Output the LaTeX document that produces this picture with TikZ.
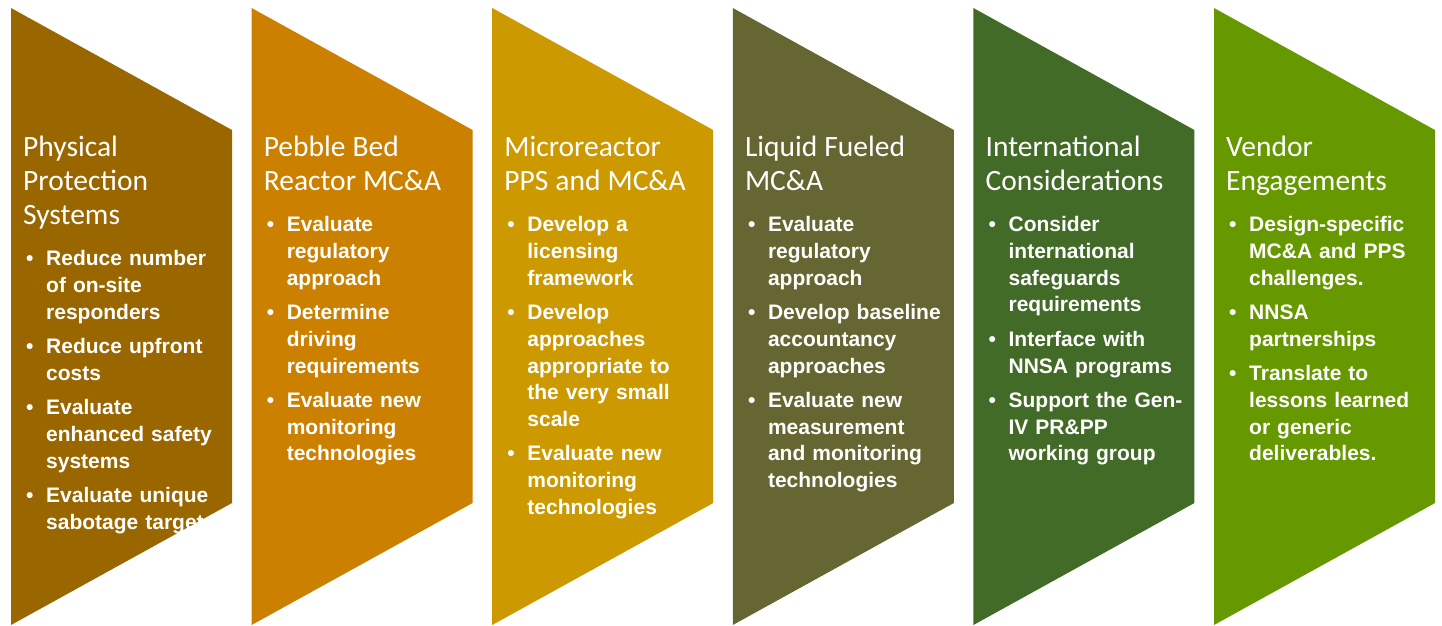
\documentclass[tikz,border=0pt]{standalone}
\usepackage{fontspec}
\setmainfont{Liberation Sans}
\newfontfamily\headfont{Carlito}
\usetikzlibrary{positioning}

\definecolor{ppsbrown}{HTML}{996600}
\definecolor{pebbleorange}{HTML}{CC8000}
\definecolor{microgold}{HTML}{CC9900}
\definecolor{liquidolive}{HTML}{666633}
\definecolor{intlgreen}{HTML}{436B28}
\definecolor{vendorgreen}{HTML}{669900}

% column heading, then the bullets are indented
\newcommand{\phead}[1]{\raggedright\leftskip=0pt\relax
	{\headfont\mdseries\fontsize{29.5}{34}\selectfont\vrule height25pt width0pt\relax #1\par}%
	\vspace{7pt}\leftskip=23pt\relax}
% one bullet of a column list
\newcommand{\pitem}{\par\vspace{7.8pt}\noindent\llap{\makebox[21pt][l]{\hskip1pt•}}}

\begin{document}
\begin{tikzpicture}[x=1pt,y=-1pt,
	panel/.style={
		anchor=north west,
		inner sep=0pt,
		text width=215pt,
		% The text:
		text=white,
		font=\fontsize{21}{26.7}\selectfont\bfseries
		}]

	\useasboundingbox (0,0) rectangle (1442,625);

	% each column: flag shape used as clip, then filled, then its text
	\begin{scope}
		\clip (11,8) -- ++(221,122) -- ++(0,373) -- (11,625) -- cycle;
		\fill[ppsbrown] (0,0) rectangle (1442,625);
		\node (pps) [panel] at (23,131) {\phead{Physical\newline Protection\newline Systems}
			\pitem Reduce number\newline of on-site\newline responders
			\pitem Reduce upfront\newline costs
			\pitem Evaluate\newline enhanced safety\newline systems
			\pitem Evaluate unique\newline sabotage targets\par};
	\end{scope}

	\begin{scope}
		\clip (251.6,8) -- ++(221,122) -- ++(0,373) -- (251.6,625) -- cycle;
		\fill[pebbleorange] (0,0) rectangle (1442,625);
		\node (pebble) [panel] at (263.6,131) {\phead{Pebble Bed\newline Reactor MC\&A}
			\pitem Evaluate\newline regulatory\newline approach
			\pitem Determine\newline driving\newline requirements
			\pitem Evaluate new\newline monitoring\newline technologies\par};
	\end{scope}

	\begin{scope}
		\clip (492.2,8) -- ++(221,122) -- ++(0,373) -- (492.2,625) -- cycle;
		\fill[microgold] (0,0) rectangle (1442,625);
		\node (micro) [panel] at (504.2,131) {\phead{Microreactor\newline PPS and MC\&A}
			\pitem Develop a\newline licensing\newline framework
			\pitem Develop\newline approaches\newline appropriate to\newline the very small\newline scale
			\pitem Evaluate new\newline monitoring\newline technologies\par};
	\end{scope}

	\begin{scope}
		\clip (732.8,8) -- ++(221,122) -- ++(0,373) -- (732.8,625) -- cycle;
		\fill[liquidolive] (0,0) rectangle (1442,625);
		\node (liquid) [panel] at (744.8,131) {\phead{Liquid Fueled\newline MC\&A}
			\pitem Evaluate\newline regulatory\newline approach
			\pitem Develop baseline\newline accountancy\newline approaches
			\pitem Evaluate new\newline measurement\newline and monitoring\newline technologies\par};
	\end{scope}

	\begin{scope}
		\clip (973.4,8) -- ++(221,122) -- ++(0,373) -- (973.4,625) -- cycle;
		\fill[intlgreen] (0,0) rectangle (1442,625);
		\node (intl) [panel] at (985.4,131) {\phead{International\newline Considerations}
			\pitem Consider\newline international\newline safeguards\newline requirements
			\pitem Interface with\newline NNSA programs
			\pitem Support the Gen-\newline IV PR\&PP\newline working group\par};
	\end{scope}

	\begin{scope}
		\clip (1214,8) -- ++(221,122) -- ++(0,373) -- (1214,625) -- cycle;
		\fill[vendorgreen] (0,0) rectangle (1442,625);
		\node (vendor) [panel] at (1226,131) {\phead{Vendor\newline Engagements}
			\pitem Design-specific\newline MC\&A and PPS\newline challenges.
			\pitem NNSA\newline partnerships
			\pitem Translate to\newline lessons learned\newline or generic\newline deliverables.\par};
	\end{scope}

\end{tikzpicture}
\end{document}
